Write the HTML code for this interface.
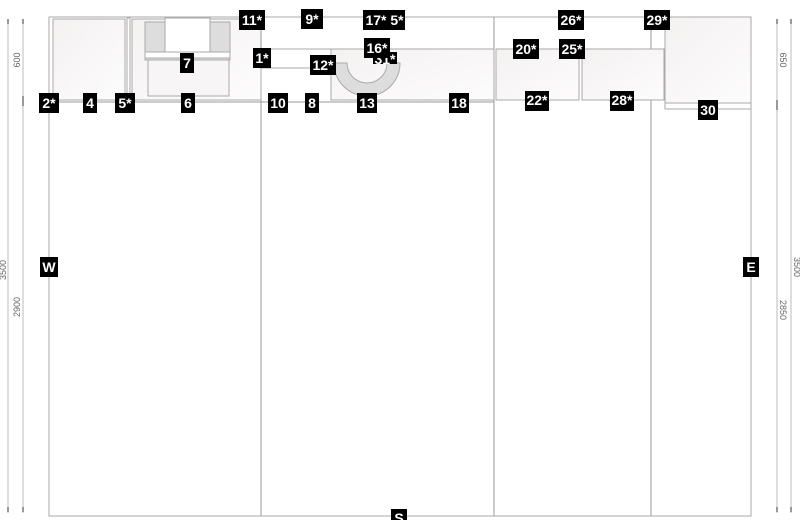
<!DOCTYPE html><html><head><style>body{margin:0;background:#fff}svg{display:block}text{font-family:"Liberation Sans",sans-serif}.l text{font-weight:bold;font-size:14px;fill:#fff;text-anchor:middle}.d{font-size:9px;fill:#666;text-anchor:middle}</style></head><body>
<svg width="800" height="520" viewBox="0 0 800 520">
<defs><linearGradient id="g" x1="0" y1="0" x2="1" y2="1"><stop offset="0" stop-color="#f4f1f1"/><stop offset="1" stop-color="#fdfcfc"/></linearGradient></defs>
<g stroke="#999" stroke-width="1" fill="none">
<rect x="49" y="17" width="702" height="499" stroke="#aaa"/>
<line x1="261" y1="100" x2="261" y2="516"/><line x1="494" y1="17" x2="494" y2="516"/><line x1="651" y1="17" x2="651" y2="516"/>
</g>
<g stroke="#aaa" fill="url(#g)">
<rect x="53" y="19" width="72" height="81"/>
<rect x="127" y="18" width="3" height="82" fill="#fff"/>
<rect x="132" y="19" width="129" height="81"/>
<rect x="145" y="22" width="85" height="38" fill="#ddd"/>
<rect x="165" y="18" width="45" height="34" fill="#fff"/>
<rect x="145" y="52" width="85" height="6" fill="#fff"/>
<rect x="148" y="60" width="81" height="36" fill="#f7f5f5"/>
<rect x="261" y="49" width="70" height="19" fill="#fff"/>
<rect x="331" y="49" width="163" height="51"/>
<path d="M334 63 A33 33 0 0 0 400 63 L387 63 A20 20 0 0 1 347 63 Z" fill="#ddd"/>
<rect x="496" y="49" width="83" height="51"/>
<rect x="582" y="49" width="82" height="51"/>
<rect x="665" y="17" width="86" height="86"/>
<rect x="665" y="103" width="86" height="6" fill="#fff"/>
</g>
<g stroke="#999" fill="none"><line x1="261" y1="27" x2="261" y2="68"/><line x1="651" y1="27" x2="651" y2="49"/><line x1="49" y1="102" x2="494" y2="102"/></g>
<g stroke="#bbb"><line x1="8" y1="20" x2="8" y2="513"/><line x1="23" y1="20" x2="23" y2="513"/><line x1="777" y1="20" x2="777" y2="513"/><line x1="791" y1="20" x2="791" y2="513"/></g>
<g stroke="#777" stroke-width="1.5"><line x1="8" y1="19" x2="8" y2="24"/><line x1="23" y1="19" x2="23" y2="24"/><line x1="8" y1="507" x2="8" y2="512"/><line x1="23" y1="507" x2="23" y2="512"/><line x1="23" y1="96" x2="23" y2="106"/><line x1="777" y1="19" x2="777" y2="24"/><line x1="791" y1="19" x2="791" y2="24"/><line x1="777" y1="507" x2="777" y2="512"/><line x1="791" y1="507" x2="791" y2="512"/><line x1="777" y1="100" x2="777" y2="110"/></g>
<text class="d" transform="translate(20,60) rotate(-90)">600</text>
<text class="d" transform="translate(20,307) rotate(-90)">2900</text>
<text class="d" transform="translate(6,270) rotate(-90)">3500</text>
<text class="d" transform="translate(780,60) rotate(90)">650</text>
<text class="d" transform="translate(780,310) rotate(90)">2850</text>
<text class="d" transform="translate(794,267) rotate(90)">3500</text>
<g class="l">
<g transform="translate(252,20)"><rect x="-13" y="-10" width="26" height="20"/><text y="5">11*</text></g>
<g transform="translate(312,19)"><rect x="-11" y="-10" width="22" height="20"/><text y="5">9*</text></g>
<g transform="translate(376,20)"><rect x="-13" y="-10" width="26" height="20"/><text y="5">17*</text></g>
<g transform="translate(397,20)"><rect x="-8" y="-10" width="16" height="20"/><text y="5">5*</text></g>
<g transform="translate(262,58)"><rect x="-9" y="-10" width="18" height="20"/><text y="5">1*</text></g>
<g transform="translate(385,59)"><rect x="-12" y="-7" width="24" height="12"/><text y="5">31*</text></g>
<g transform="translate(377,48)"><rect x="-13" y="-10" width="26" height="20"/><text y="5">16*</text></g>
<g transform="translate(323,65)"><rect x="-13" y="-10" width="26" height="20"/><text y="5">12*</text></g>
<g transform="translate(187,63)"><rect x="-7" y="-10" width="14" height="20"/><text y="5">7</text></g>
<g transform="translate(49,103)"><rect x="-10" y="-10" width="20" height="20"/><text y="5">2*</text></g>
<g transform="translate(90,103)"><rect x="-7" y="-10" width="14" height="20"/><text y="5">4</text></g>
<g transform="translate(125,103)"><rect x="-10" y="-10" width="20" height="20"/><text y="5">5*</text></g>
<g transform="translate(188,103)"><rect x="-7" y="-10" width="14" height="20"/><text y="5">6</text></g>
<g transform="translate(278,103)"><rect x="-10" y="-10" width="20" height="20"/><text y="5">10</text></g>
<g transform="translate(312,103)"><rect x="-7" y="-10" width="14" height="20"/><text y="5">8</text></g>
<g transform="translate(367,103)"><rect x="-10" y="-10" width="20" height="20"/><text y="5">13</text></g>
<g transform="translate(459,103)"><rect x="-10" y="-10" width="20" height="20"/><text y="5">18</text></g>
<g transform="translate(537,101)"><rect x="-12" y="-10" width="24" height="20"/><text y="4">22*</text></g>
<g transform="translate(622,101)"><rect x="-12" y="-10" width="24" height="20"/><text y="4">28*</text></g>
<g transform="translate(526,49)"><rect x="-13" y="-10" width="26" height="20"/><text y="5">20*</text></g>
<g transform="translate(572,49)"><rect x="-13" y="-10" width="26" height="20"/><text y="5">25*</text></g>
<g transform="translate(571,20)"><rect x="-13" y="-10" width="26" height="20"/><text y="5">26*</text></g>
<g transform="translate(657,20)"><rect x="-13" y="-10" width="26" height="20"/><text y="5">29*</text></g>
<g transform="translate(708,110)"><rect x="-10" y="-10" width="20" height="20"/><text y="5">30</text></g>
<g transform="translate(49,267)"><rect x="-9" y="-10" width="18" height="20"/><text y="5">W</text></g>
<g transform="translate(751,267)"><rect x="-8" y="-10" width="16" height="20"/><text y="5">E</text></g>
<g transform="translate(399,518)"><rect x="-8" y="-9" width="16" height="18"/><text y="5">S</text></g>
</g>
</svg></body></html>
